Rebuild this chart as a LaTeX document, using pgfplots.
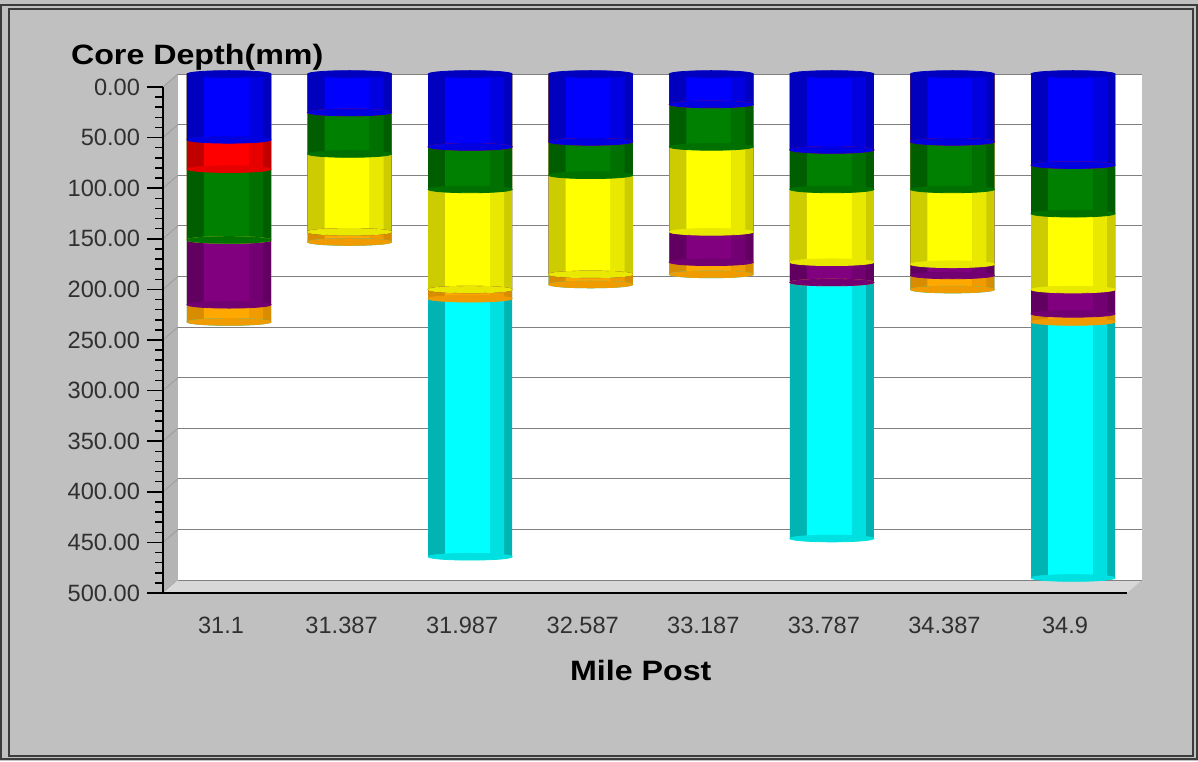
\documentclass[border=0pt]{standalone}
\usepackage{pgfplots}
\pgfplotsset{compat=1.18}
\usepackage{pgfplotstable}
\usepackage{fontspec}
\setmainfont{Liberation Sans}
\newfontfamily\headfont{Liberation Sans}[FakeStretch=1.15]

% panel and frame colours
\definecolor{panel}{HTML}{C0C0C0}
\definecolor{framec}{HTML}{3C3C3C}
\definecolor{sidewall}{HTML}{B4B4B4}
\definecolor{floorc}{HTML}{D8D8D8}
\definecolor{gridc}{HTML}{808080}
\definecolor{tickc}{HTML}{303030}

% layer colours: dark facet, bright face, mid facet
\definecolor{blueD}{HTML}{0000BE}\definecolor{blueB}{HTML}{0000FF}\definecolor{blueM}{HTML}{0000E0}
\definecolor{redD}{HTML}{C00000}\definecolor{redB}{HTML}{FF0000}\definecolor{redM}{HTML}{E60000}
\definecolor{greenD}{HTML}{005E00}\definecolor{greenB}{HTML}{008000}\definecolor{greenM}{HTML}{007000}
\definecolor{yellowD}{HTML}{CCCC00}\definecolor{yellowB}{HTML}{FFFF00}\definecolor{yellowM}{HTML}{E8E800}
\definecolor{purpleD}{HTML}{620062}\definecolor{purpleB}{HTML}{800080}\definecolor{purpleM}{HTML}{720072}
\definecolor{orangeD}{HTML}{D88C00}\definecolor{orangeB}{HTML}{FFA800}\definecolor{orangeM}{HTML}{F09C00}
\definecolor{cyanD}{HTML}{00B4B4}\definecolor{cyanB}{HTML}{00FFFF}\definecolor{cyanM}{HTML}{00E0E0}

% depth (mm) to the bottom of each layer, per mile post
\pgfplotstableread{
pos blue red green yellow purple orange cyan
0   65   94  164   164    228    245    245
1   38   38   79   156    156    166    166
2   72   72  114   213    213    222    477
3   67   67  100   198    198    208    208
4   30   30   72   156    186    198    198
5   75   75  114   186    206    206    459
6   67   67  114   188    199    213    213
7   90   90  138   213    237    245    498
}\cores

\pgfplotsset{
  facet/.style={ybar, draw=none, fill=#1},
  cap/.style={only marks, mark=*, color=#1, mark size=21pt,
    mark options={yscale=0.08}},
}
% one core layer: dark body, bright front facet, mid right facet, rounded lower edge
\newcommand\corelayer[2]{%
  \addplot[facet=#2D, bar width=0.697, bar shift=0]      table[x=pos,y=#1] {\cores};
  \addplot[facet=#2B, bar width=0.373, bar shift=-0.021] table[x=pos,y=#1] {\cores};
  \addplot[facet=#2M, bar width=0.116, bar shift=0.224]  table[x=pos,y=#1] {\cores};
  \addplot[cap=#2M] table[x=pos,y=#1] {\cores};
}

\begin{document}
\begin{tikzpicture}[x=0.5pt,y=0.5pt]
% panel and double frame
\fill[panel] (0,0) rectangle (1198,761);
\draw[framec, line width=1pt] (1,2) rectangle (1197,756);
\draw[framec, line width=0.8pt] (9,5) rectangle (1193,752);
% side wall and floor of the plot box
\fill[sidewall] (163,168) -- (178,181) -- (178,687) -- (163,674) -- cycle;
\foreach \k in {0,...,10}
  \draw[gray!75, line width=0.5pt] (163,674-50.6*\k) -- (178,687-50.6*\k);
\fill[floorc] (163,168) -- (1127,168) -- (1142,181) -- (178,181) -- cycle;

% back wall with grid and the cores
\begin{axis}[
  at={(89pt,90.5pt)}, anchor=south west,
  scale only axis, width=482pt, height=253pt,
  xmin=-0.423, xmax=7.572, ymin=0, ymax=500, y dir=reverse,
  axis background/.style={fill=white},
  axis line style={draw=none},
  xtick=\empty, ytick={0,50,...,500}, yticklabels={},
  major tick length=0pt,
  ymajorgrids, grid style={gridc, line width=0.5pt},
  clip=false,
]
\corelayer{cyan}{cyan}
\corelayer{orange}{orange}
\corelayer{purple}{purple}
\corelayer{yellow}{yellow}
\corelayer{green}{green}
\corelayer{red}{red}
\corelayer{blue}{blue}
% top faces
\addplot[cap=blueD] coordinates {(0,0) (1,0) (2,0) (3,0) (4,0) (5,0) (6,0) (7,0)};
\end{axis}

% front axis with ticks and labels
\begin{axis}[
  at={(81.5pt,84pt)}, anchor=south west,
  scale only axis, width=482pt, height=253pt,
  xmin=-0.423, xmax=7.572, ymin=0, ymax=500,
  axis x line*=bottom, axis y line*=left,
  axis line style={black, line width=1pt},
  xtick={0,...,7},
  xticklabels={31.1,31.387,31.987,32.587,33.187,33.787,34.387,34.9},
  xtick style={draw=none},
  ytick={0,50,...,500},
  yticklabels={500.00,450.00,400.00,350.00,300.00,250.00,200.00,150.00,100.00,50.00,0.00},
  minor y tick num=4,
  tick align=outside,
  major tick length=8pt, minor tick length=4pt,
  ytick style={black, line width=0.75pt},
  /pgf/number format/assume math mode=true,
  ticklabel style={font=\fontsize{11.8}{14}\selectfont, text=tickc},
  xticklabel style={xshift=3.5pt, yshift=-0.5pt},
]
\end{axis}

\node[anchor=base west, font=\headfont\bfseries\fontsize{14}{16}\selectfont] at (64,696) {Core Depth(mm)};
\node[anchor=base west, font=\headfont\bfseries\fontsize{14}{16}\selectfont] at (563,81) {Mile Post};

\pgfresetboundingbox
\path[use as bounding box] (0,0) rectangle (1198,761);
\end{tikzpicture}
\end{document}
